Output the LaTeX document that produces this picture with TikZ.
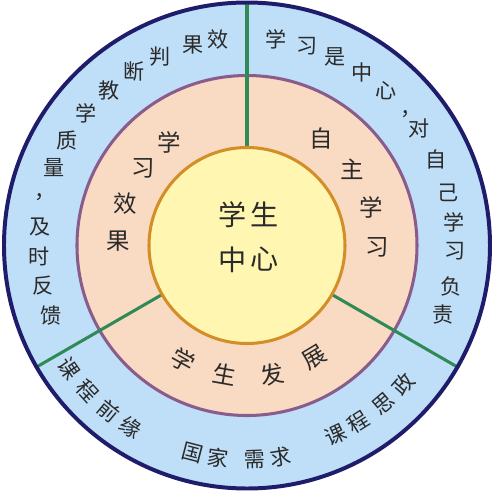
\documentclass[tikz,border=0pt]{standalone}
\usepackage{fontspec}
\setmainfont{Noto Sans CJK SC}
\usepackage{tikz}

\definecolor{ringblue}{HTML}{BFDEF7}
\definecolor{ringnavy}{HTML}{1F1D6B}
\definecolor{ringpeach}{HTML}{F9DAC2}
\definecolor{ringpurple}{HTML}{8A5C8C}
\definecolor{coreyellow}{HTML}{FFF6B2}
\definecolor{coreorange}{HTML}{D48E28}
\definecolor{splitgreen}{HTML}{2F8A55}
\definecolor{inkgray}{HTML}{2A2A2A}

\begin{document}
\begin{tikzpicture}[x=0.03cm, y=0.03cm,
  outerchar/.style={font=\fontsize{18}{18}\selectfont, text=inkgray, inner sep=0pt},
  midchar/.style={font=\fontsize{20}{20}\selectfont, text=inkgray, inner sep=0pt},
  corechar/.style={font=\fontsize{24}{24}\selectfont, text=inkgray, inner sep=0pt}]
  \useasboundingbox (-247,-247.5) rectangle (246,245.5);

  % Outer ring
  \fill [ringblue] (0,0) circle (243);

  % Middle ring
  \fill [ringpeach] (0,0) circle (170);
  \draw [ringpurple, line width=2.6pt] (0,0) circle (170);

  % Dividers
  \foreach \a in {90, 210, 330}
    \draw [splitgreen, line width=2.6pt] (\a:98) -- (\a:243);

  % Core
  \draw [coreorange, fill=coreyellow, line width=2.6pt] (0,0) circle (98);
  \draw [ringnavy, line width=3.4pt] (0,0) circle (243);

  % Core text
  \node [corechar] (core1) at (-14,31) {学};
  \node [corechar] (core2) at (18,31) {生};
  \node [corechar] (core3) at (-14,-14) {中};
  \node [corechar] (core4) at (18,-14) {心};

  % Middle ring, upright
  \foreach \c/\a [count=\i] in {学/127, 习/143.5, 效/161, 果/178}
    \node [midchar] (effect\i) at (\a:129) {\c};
  \foreach \c/\a [count=\i] in {自/55, 主/36, 学/17, 习/-1}
    \node [midchar] (self\i) at (\a:130) {\c};

  % Middle ring, along the arc
  \foreach \c/\a [count=\i] in {学/-119, 生/-100, 发/-79, 展/-59}
    \node [midchar, rotate=\a+90] (growth\i) at (\a:131) {\c};

  % Outer ring, left
  \foreach \c/\a [count=\i] in {效/98, 果/105, 判/114.6, 断/123, 教/131.7,
      学/140.5, 质/149.7, 量/158, 及/175, 时/183, 反/191, 馈/199.7}
    \node [outerchar] (judge\i) at (\a:208) {\c};
  \node [outerchar, xshift=5pt, yshift=-3pt] (judgecomma) at (166:214) {，};

  % Outer ring, right
  \foreach \c/\a [count=\i] in {学/82, 习/73.3, 是/65, 中/56.4, 心/48, 对/34.3,
      自/24.5, 己/14.6, 学/6.3, 习/-1.6, 负/-11.3, 责/-19.3}
    \node [outerchar] (duty\i) at (\a:208) {\c};
  \node [outerchar, xshift=5pt, yshift=-3pt] (dutycomma) at (40.5:208) {，};

  % Outer ring, bottom
  \foreach \c/\a [count=\i] in {课/-145.3, 程/-137.6, 前/-129.8, 缘/-122.7}
    \node [outerchar, rotate=\a+90] (prior\i) at (\a:216) {\c};
  \foreach \c/\a [count=\i] in {国/-104.7, 家/-97.7, 需/-87.9, 求/-81}
    \node [outerchar, rotate=\a+90] (nation\i) at (\a:214) {\c};
  \foreach \c/\a [count=\i] in {课/-64.8, 程/-57.8, 思/-49.3, 政/-41.5}
    \node [outerchar, rotate=\a+90] (ideol\i) at (\a:209) {\c};
\end{tikzpicture}
\end{document}
